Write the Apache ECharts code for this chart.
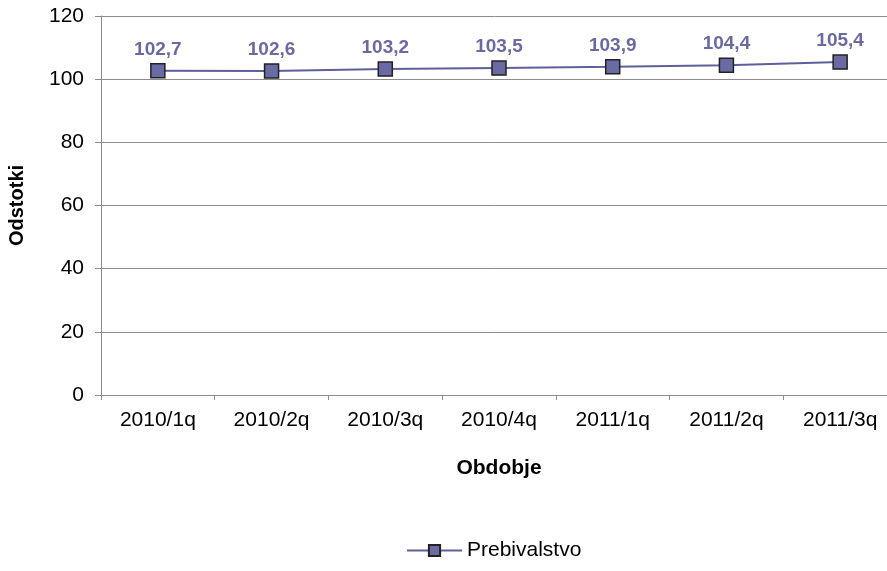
<!DOCTYPE html>
<html>
<head>
<meta charset="utf-8">
<script src="https://cdn.jsdelivr.net/npm/echarts@6/dist/echarts.min.js"></script>
<style>
  html, body { margin: 0; padding: 0; background: #fff; }
  #chart { width: 887px; height: 571px; }
</style>
</head>
<body>
<div id="chart"></div>
<script>
// chart data
var periods = ['2010/1q', '2010/2q', '2010/3q', '2010/4q', '2011/1q', '2011/2q', '2011/3q'];
var prebivalstvo = [102.7, 102.6, 103.2, 103.5, 103.9, 104.4, 105.4];
var yTicks = [0, 20, 40, 60, 80, 100, 120];

var font = '"Liberation Sans", Arial, sans-serif';
var myChart = echarts.init(document.getElementById('chart'));

var option = {
  animation: false,
  textStyle: { fontFamily: font },
  grid: { left: 101, top: 16, bottom: 176, width: 796, containLabel: false, outerBoundsMode: 'none' },
  legend: {
    left: 401,
    top: 535,
    itemWidth: 55,
    itemHeight: 14,
    textStyle: { fontFamily: font, fontSize: 21, color: '#000' },
    data: ['Prebivalstvo']
  },
  xAxis: {
    type: 'category',
    data: periods,
    boundaryGap: true,
    name: 'Obdobje',
    nameLocation: 'middle',
    nameGap: 63,
    nameTextStyle: { fontFamily: font, fontSize: 21, fontWeight: 'bold', color: '#000' },
    axisLine: { lineStyle: { color: '#8c8c8c', width: 1 } },
    axisTick: { show: true, inside: false, length: 5, alignWithLabel: false, lineStyle: { color: '#8c8c8c' } },
    axisLabel: { fontFamily: font, fontSize: 21, color: '#000', margin: 15 },
    splitLine: { show: false }
  },
  yAxis: {
    type: 'value',
    min: yTicks[0],
    max: yTicks[yTicks.length - 1],
    interval: 20,
    name: 'Odstotki',
    nameLocation: 'middle',
    nameRotate: 90,
    nameGap: 74,
    nameTextStyle: { fontFamily: font, fontSize: 20, fontWeight: 'bold', color: '#000' },
    axisLine: { show: true, lineStyle: { color: '#8c8c8c', width: 1 } },
    axisTick: { show: true, inside: false, length: 6, lineStyle: { color: '#8c8c8c' } },
    axisLabel: { fontFamily: font, fontSize: 21, color: '#000', margin: 17 },
    splitLine: { show: true, lineStyle: { color: '#8c8c8c', width: 1 } }
  },
  series: [
    {
      name: 'Prebivalstvo',
      type: 'line',
      data: prebivalstvo,
      symbol: 'rect',
      symbolSize: 14,
      lineStyle: { color: '#5f5f9c', width: 2 },
      itemStyle: { color: '#6a6aa4', borderColor: '#222222', borderWidth: 1.5 },
      label: {
        show: true,
        position: 'top',
        distance: 4,
        fontFamily: font,
        fontSize: 19,
        fontWeight: 'bold',
        color: '#6a6aa2',
        formatter: function (p) { return p.value.toFixed(1).replace('.', ','); }
      }
    }
  ]
};

myChart.setOption(option);
</script>
</body>
</html>
